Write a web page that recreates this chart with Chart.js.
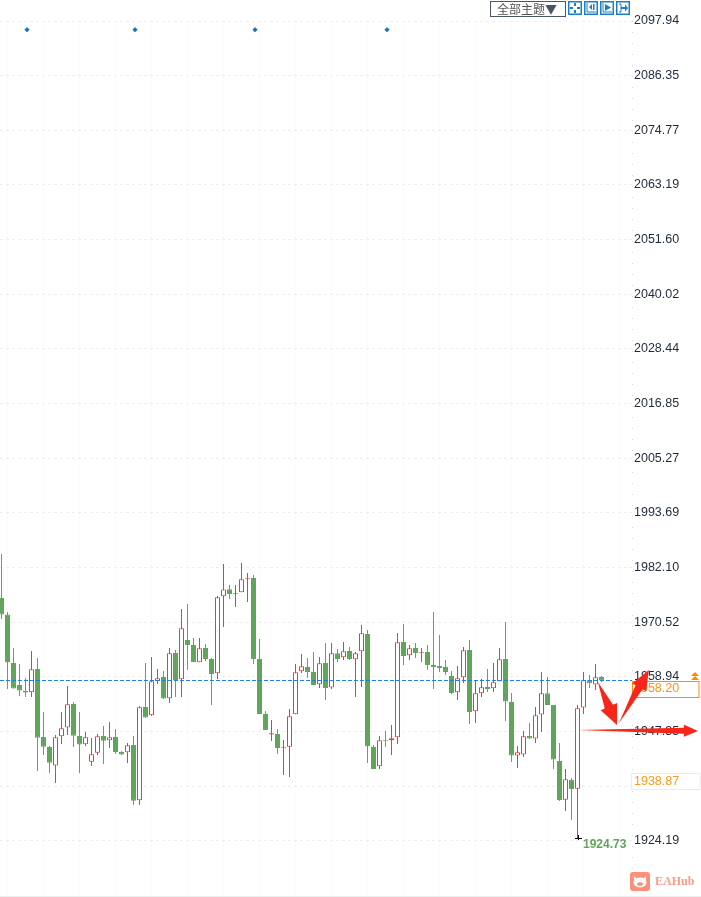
<!DOCTYPE html>
<html>
<head>
<meta charset="utf-8">
<script src="https://cdn.jsdelivr.net/npm/chart.js@4"></script>
<style>
  html, body { margin: 0; padding: 0; background: #fff; }
  #wrap { position: relative; width: 701px; height: 897px; overflow: hidden; }
  canvas { position: absolute; left: 0; top: 0; }
  #theme { position: absolute; left: 490px; top: 1px; height: 14px; border: 1px solid #4a5568;
    font: 12px/14px "Noto Sans CJK SC", sans-serif; color: #555; text-align: left; padding-left: 6px; box-sizing: content-box; width: 68px; white-space: nowrap; }
  #theme b { font-weight: normal; color: #4a5568; }
  .btn { position: absolute; top: 1px; width: 14px; height: 14px; }
  .btn rect { fill: #fff; stroke: #1a7fc4; stroke-width: 1.5; }
  #logo { position: absolute; left: 630px; top: 872px; width: 20px; height: 19px; }
  #logoText { position: absolute; left: 655px; top: 873px; font: bold 12px/16px "Liberation Serif", serif; color: #fa9c88; }
  #foot { position: absolute; left: 0; top: 896px; width: 701px; height: 1px; background: #e9f1ef; }
</style>
</head>
<body>
<div id="wrap">
  <canvas id="kline" width="701" height="897"></canvas>
  <div id="theme">全部主题<b>▼</b></div>
  <svg class="btn" style="left:568px" viewBox="0 0 14 14"><rect x=".75" y=".75" width="12.500" height="12.500"/><path d="M6 2h2v3H6zM6 9h2v3H6zM2 6h3v2H2zM9 6h3v2H9z" fill="#1a7fc4"/></svg>
  <svg class="btn" style="left:584px" viewBox="0 0 14 14"><rect x=".75" y=".75" width="12.500" height="12.500"/><path d="M3 2v9h9" fill="none" stroke="#1a7fc4"/><path d="M5 6l3-3v6zM9 3h1.500v6H9z" fill="#1a7fc4"/></svg>
  <svg class="btn" style="left:600px" viewBox="0 0 14 14"><rect x=".75" y=".75" width="12.500" height="12.500"/><path d="M3 2v9h9" fill="none" stroke="#1a7fc4"/><path d="M5 3l6 3.500L5 10z" fill="#1a7fc4"/></svg>
  <svg class="btn" style="left:616px" viewBox="0 0 14 14"><rect x=".75" y=".75" width="12.500" height="12.500"/><path d="M3 3h2v8H3" fill="none" stroke="#1a7fc4"/><path d="M5 6h4V3.500l3 3.500-3 3.500V8H5z" fill="#1a7fc4"/></svg>
  <svg id="logo" viewBox="0 0 20 19"><rect width="20" height="19" rx="3" fill="#fb8f78"/><ellipse cx="10" cy="10.500" rx="6.500" ry="5" fill="#fff"/><path d="M4 4l3 3-3 1zM16 4l-3 3 3 1z" fill="#fff"/><ellipse cx="10" cy="12" rx="3" ry="1.800" fill="#fb8f78"/></svg>
  <div id="logoText">EAHub</div>
  <div id="foot"></div>
</div>
<script>
const yTicks = [2097.94, 2086.35, 2074.77, 2063.19, 2051.60, 2040.02, 2028.44, 2016.85, 2005.27, 1993.69, 1982.10, 1970.52, 1958.94, 1947.35, 1935.77, 1924.19];

const opens = [1975.70,1972.16,1961.92,1957.25,1955.98,1955.70,1960.65,1946.23,1944.11,1940.16,
  1946.37,1948.21,1953.23,1946.44,1944.68,1941.00,1942.91,1946.44,1945.53,1946.23,
  1943.05,1942.98,1944.54,1932.81,1952.59,1950.82,1958.10,1958.95,1954.43,1964.04,
  1958.46,1966.79,1965.73,1962.06,1965.10,1962.77,1959.73,1976.05,1977.53,1976.47,
  1976.90,1979.65,1979.94,1962.77,1951.11,1946.73,1946.87,1943.83,1944.18,1951.04,
  1960.15,1961.07,1960.01,1957.40,1961.92,1956.69,1963.97,1963.12,1964.46,1962.70,
  1964.39,1968.07,1944.12,1940.02,1945.53,1945.53,1946.17,1966.37,1963.55,1965.10,
  1963.97,1964.25,1961.50,1961.29,1961.07,1959.17,1955.70,1958.88,1964.68,1951.68,
  1955.49,1956.84,1956.55,1958.03,1962.77,1953.65,1942.28,1942.49,1946.45,1945.88,
  1950.97,1955.49,1953.02,1941.15,1932.95,1937.19,1935.28,1952.45,1958.25,1957.33,
  1958.95];
const highs = [1985.02,1972.73,1965.10,1961.71,1958.74,1964.46,1962.98,1951.53,1944.32,1946.66,
  1951.53,1957.04,1953.65,1951.53,1947.29,1946.02,1946.87,1948.56,1949.41,1947.93,
  1943.26,1944.96,1946.44,1952.80,1961.92,1963.19,1960.65,1960.22,1965.10,1964.67,
  1973.36,1974.42,1967.22,1967.22,1965.94,1962.98,1976.12,1982.90,1978.45,1978.45,
  1983.11,1980.99,1980.57,1967.01,1951.74,1949.84,1947.93,1945.60,1952.17,1961.71,
  1963.83,1962.98,1964.25,1963.19,1966.16,1966.16,1964.89,1966.37,1965.31,1964.25,
  1969.98,1968.92,1944.54,1946.45,1947.51,1948.78,1968.28,1970.19,1965.74,1966.16,
  1965.10,1965.74,1972.73,1967.86,1962.56,1960.22,1961.29,1965.31,1966.80,1958.32,
  1958.53,1960.65,1961.92,1965.10,1970.61,1955.56,1944.33,1947.51,1949.20,1952.59,
  1960.01,1958.95,1953.02,1944.96,1939.45,1937.55,1953.02,1960.01,1959.38,1961.71,
  1959.17];
const lows = [1971.24,1956.41,1956.48,1954.92,1954.71,1954.71,1939.02,1942.42,1938.60,1936.48,
  1944.75,1946.66,1944.11,1938.60,1944.32,1940.08,1942.42,1940.51,1943.90,1942.63,
  1942.42,1940.72,1931.82,1931.82,1950.26,1950.68,1957.47,1954.29,1953.44,1954.71,
  1954.71,1960.43,1962.13,1962.06,1962.34,1953.01,1958.53,1969.55,1975.48,1973.79,
  1976.90,1974.85,1961.71,1951.11,1947.72,1945.38,1942.63,1938.18,1937.75,1951.04,
  1959.80,1958.74,1957.25,1956.62,1954.07,1956.41,1962.13,1962.56,1962.56,1954.72,
  1956.84,1940.72,1939.45,1939.45,1944.12,1942.42,1944.75,1961.50,1962.56,1962.98,
  1962.13,1960.44,1956.41,1960.01,1959.38,1955.35,1954.08,1957.68,1948.99,1949.20,
  1954.72,1955.77,1955.77,1958.03,1949.63,1940.94,1939.66,1942.00,1945.81,1944.96,
  1947.30,1953.02,1939.45,1932.67,1930.55,1928.64,1924.73,1951.11,1956.62,1956.20,
  1957.90];
const closes = [1972.16,1961.99,1956.48,1956.05,1955.63,1960.58,1946.09,1944.18,1940.79,1946.16,
  1948.07,1953.16,1946.51,1944.61,1946.16,1942.56,1946.37,1945.45,1946.16,1943.05,
  1942.49,1944.47,1932.74,1952.52,1950.33,1958.03,1958.67,1954.36,1963.97,1958.31,
  1969.27,1965.73,1962.13,1965.03,1962.77,1959.59,1975.84,1977.46,1976.54,1976.68,
  1979.65,1979.86,1962.77,1951.11,1947.72,1947.01,1943.90,1944.04,1950.61,1959.94,
  1961.21,1960.01,1957.25,1961.85,1956.62,1963.97,1962.77,1964.39,1962.77,1963.97,
  1968.21,1944.19,1939.45,1945.53,1945.39,1945.95,1966.30,1963.41,1965.03,1964.04,
  1964.18,1961.50,1961.07,1960.86,1960.01,1955.56,1958.67,1964.60,1951.54,1955.49,
  1956.76,1956.41,1957.82,1962.70,1953.72,1942.28,1942.99,1946.38,1945.88,1950.83,
  1955.49,1953.02,1941.43,1932.88,1937.26,1935.21,1952.31,1958.25,1957.61,1958.89,
  1958.20];

const markerCandles = [4.25, 22.25, 42.25, 64.25];
const markerPrice = 2096.1;
const lastPrice = 1958.20;
const lastPriceLabel = '1958.20';
const avgPrice = 1938.87;
const avgPriceLabel = '1938.87';
const lowLabel = '1924.73';

// hand drawn arrows on the screenshot: [candle, price] start and tip
const arrowStarts = [[99.4, 1957.89], [102.92, 1949.2], [96.08, 1947.72]];
const arrowTips = [[102.58, 1948.78], [107.9, 1960.44], [116.08, 1947.51]];

const UP = '#d9423f';
const DOWN = '#5fa55a';
const xMin = -0.25;
const xMax = 105.0833;
const candles = opens.map((o, i) => i);
const isUp = i => closes[i] >= opens[i];

function drawArrow(ctx, s, t, headLen, headW, shaftW) {
  const dx = t[0] - s[0], dy = t[1] - s[1];
  const len = Math.hypot(dx, dy);
  const ux = dx / len, uy = dy / len;
  const nx = -uy, ny = ux;
  const bx = t[0] - ux * headLen, by = t[1] - uy * headLen;
  ctx.beginPath();
  ctx.moveTo(s[0], s[1]);
  ctx.lineTo(bx + nx * shaftW, by + ny * shaftW);
  ctx.lineTo(bx + nx * headW, by + ny * headW);
  ctx.lineTo(t[0], t[1]);
  ctx.lineTo(bx - nx * headW, by - ny * headW);
  ctx.lineTo(bx - nx * shaftW, by - ny * shaftW);
  ctx.closePath();
  ctx.fill();
}

const overlays = {
  id: 'overlays',
  afterDraw(chart) {
    const { ctx, scales: { x, y }, chartArea } = chart;
    ctx.save();

    // dotted price axis line
    ctx.strokeStyle = '#d8d8d8';
    ctx.setLineDash([1, 10]);
    ctx.beginPath();
    ctx.moveTo(chartArea.right + 0.5, chartArea.top);
    ctx.lineTo(chartArea.right + 0.5, chartArea.bottom);
    ctx.stroke();
    ctx.setLineDash([]);

    ctx.font = '12.5px "Liberation Sans"';
    ctx.textBaseline = 'middle';

    // last price tag
    const lastY = Math.round(y.getPixelForValue(lastPrice));
    ctx.fillStyle = '#fff';
    ctx.fillRect(632, lastY + 1, 67, 16);
    ctx.strokeStyle = '#ff8c00';
    ctx.strokeRect(632.5, lastY + 1.5, 66.5, 16);
    ctx.fillStyle = '#ff9214';
    ctx.fillText(lastPriceLabel, 634, lastY + 9);

    // little double up mark
    ctx.fillStyle = '#ff8c00';
    [lastY - 8, lastY - 4].forEach(top => {
      ctx.beginPath();
      ctx.moveTo(695, top);
      ctx.lineTo(699, top + 4);
      ctx.lineTo(691, top + 4);
      ctx.closePath();
      ctx.fill();
    });

    // second price tag
    const avgY = Math.round(y.getPixelForValue(avgPrice));
    ctx.fillStyle = '#fff';
    ctx.fillRect(631, avgY + 1, 69, 17);
    ctx.strokeStyle = '#e8eeee';
    ctx.strokeRect(631.5, avgY + 1.5, 68.5, 16);
    ctx.fillStyle = '#ff9a1a';
    ctx.fillText(avgPriceLabel, 634, avgY + 10);

    // lowest price mark
    const lowIdx = lows.indexOf(Math.min(...lows));
    const lowX = Math.round(x.getPixelForValue(lowIdx)) ;
    const lowY = Math.round(y.getPixelForValue(lows[lowIdx]));
    ctx.fillStyle = '#000';
    ctx.fillRect(lowX - 3, lowY, 7, 1);
    ctx.fillRect(lowX, lowY - 3, 1, 5);
    ctx.font = 'bold 12px "Liberation Sans"';
    ctx.fillStyle = DOWN;
    ctx.fillText(lowLabel, lowX + 5, lowY + 7);

    // red arrows
    ctx.fillStyle = '#f7261b';
    const sizes = [[20, 9, 4.5], [20, 8, 4], [14, 6, 3]];
    arrowStarts.forEach((s, i) => {
      const p1 = [x.getPixelForValue(s[0]), y.getPixelForValue(s[1])];
      const p2 = [x.getPixelForValue(arrowTips[i][0]), y.getPixelForValue(arrowTips[i][1])];
      drawArrow(ctx, p1, p2, sizes[i][0], sizes[i][1], sizes[i][2]);
    });
    ctx.restore();
  }
};

new Chart(document.getElementById('kline').getContext('2d'), {
  type: 'bar',
  data: {
    datasets: [
      {
        type: 'line',
        data: [{ x: xMin, y: lastPrice }, { x: xMax, y: lastPrice }],
        borderColor: '#1c7ce0',
        borderWidth: 1,
        borderDash: [4, 2],
        pointRadius: 0,
        order: 1
      },
      {
        type: 'scatter',
        data: markerCandles.map(c => ({ x: c, y: markerPrice })),
        backgroundColor: '#1177cc',
        pointStyle: 'rectRot',
        pointRadius: 2.5,
        order: 1
      },
      {
        // bodies
        data: candles.map(i => ({ x: i, y: [opens[i], closes[i]] })),
        backgroundColor: candles.map(i => isUp(i) ? '#ffffff' : DOWN),
        borderColor: candles.map(i => isUp(i) ? UP : DOWN),
        borderWidth: 1,
        borderSkipped: false,
        inflateAmount: 0,
        barThickness: 5,
        grouped: false,
        order: 2
      },
      {
        // wicks
        data: candles.map(i => ({ x: i, y: [lows[i], highs[i]] })),
        backgroundColor: candles.map(i => isUp(i) ? UP : DOWN),
        borderWidth: 0,
        inflateAmount: 0,
        barThickness: 1,
        grouped: false,
        order: 3
      }
    ]
  },
  options: {
    responsive: false,
    animation: false,
    layout: { autoPadding: false, padding: { top: 21, left: 0, right: 0, bottom: 0 } },
    plugins: { legend: { display: false }, tooltip: { enabled: false } },
    scales: {
      x: {
        type: 'linear',
        offset: false,
        min: xMin,
        max: xMax,
        afterBuildTicks(scale) {
          const list = [];
          for (let i = 1; i < xMax; i += 6) list.push({ value: i });
          scale.ticks = list;
        },
        afterFit(scale) { scale.height = 0; },
        ticks: { display: false, autoSkip: false },
        grid: { offset: false, color: '#f0f0f0', drawTicks: false },
        border: { display: false, dash: [1, 3] }
      },
      y: {
        position: 'right',
        min: 1912.32,
        max: 2097.94,
        afterBuildTicks(scale) { scale.ticks = yTicks.map(v => ({ value: v })); },
        afterFit(scale) {
          scale.width = 69;
          scale.paddingTop = 0;
          scale.paddingBottom = 0;
        },
        ticks: {
          autoSkip: false,
          padding: 2,
          color: '#1f2a3a',
          font: { family: '"Liberation Sans"', size: 12.5 },
          callback: v => Number(v).toFixed(2)
        },
        grid: { color: '#eeeeee', drawTicks: false },
        border: { display: false, dash: [3, 3] }
      }
    }
  },
  plugins: [overlays]
});
</script>
</body>
</html>
